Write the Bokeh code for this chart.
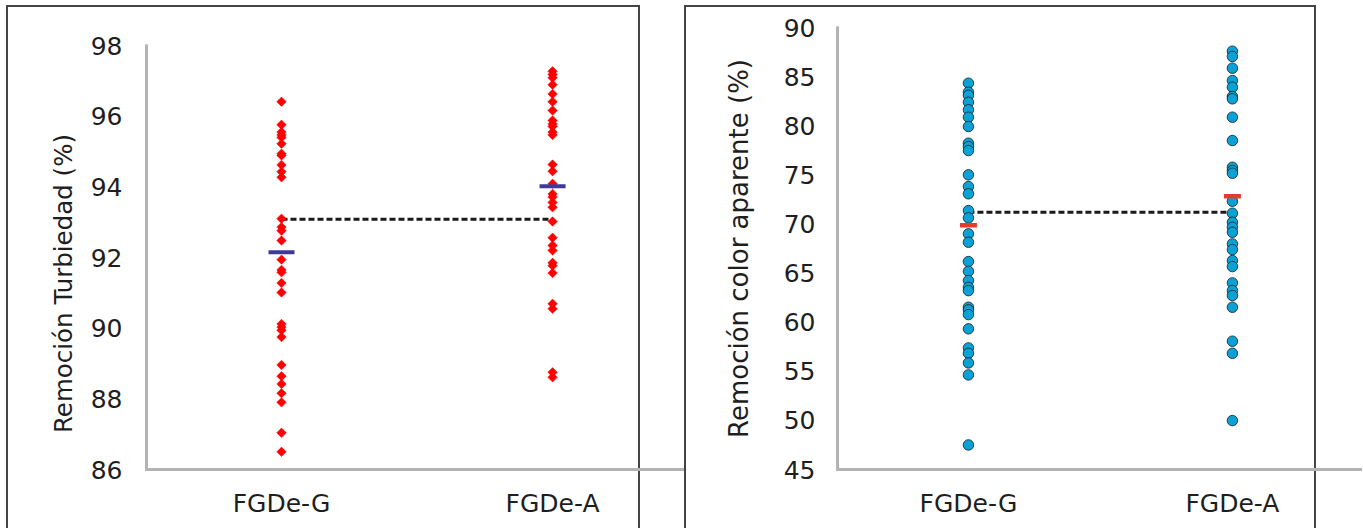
from bokeh.plotting import figure
from bokeh.layouts import row
from bokeh.models import FixedTicker, Range1d
from bokeh.embed import file_html
from bokeh.resources import INLINE

# ---------------- data ----------------
categories = ["FGDe-G", "FGDe-A"]

turb_G = [96.41, 95.76, 95.55, 95.47, 95.40, 95.22, 94.94, 94.89, 94.62, 94.43, 94.27,
          93.10, 92.86, 92.76, 92.48, 91.94, 91.65, 91.58, 91.28, 91.01, 90.12, 90.03,
          89.94, 89.75, 88.96, 88.64, 88.42, 88.16, 87.90, 87.04, 86.50]
turb_A = [97.27, 97.18, 97.09, 96.89, 96.63, 96.41, 96.16, 95.88, 95.78, 95.71, 95.55,
          95.47, 94.63, 94.44, 94.09, 93.80, 93.71, 93.56, 93.42, 93.02, 92.56, 92.34,
          92.20, 91.85, 91.77, 91.56, 90.69, 90.55, 88.75, 88.61]
turb_means = [92.15, 94.02]
turb_grand_mean = 93.08
turb_ticks = [86, 88, 90, 92, 94, 96, 98]

color_G = [84.33, 83.41, 83.10, 82.39, 81.62, 80.87, 79.92, 78.22, 77.88, 77.47, 75.00,
           73.81, 73.07, 71.36, 70.62, 68.99, 68.14, 66.17, 65.18, 64.24, 63.55, 63.21,
           61.52, 61.25, 60.77, 59.32, 57.38, 56.83, 55.85, 54.63, 47.50]
color_A = [87.59, 87.05, 85.86, 84.60, 83.92, 82.97, 82.74, 80.87, 78.49, 75.77, 75.44,
           75.16, 72.31, 71.09, 70.17, 69.66, 69.15, 67.97, 67.39, 66.27, 65.66, 64.00,
           63.22, 62.71, 61.52, 58.06, 56.83, 49.98]
color_means = [69.87, 72.82]
color_grand_mean = 71.19
color_ticks = [45, 50, 55, 60, 65, 70, 75, 80, 85, 90]

FONT = "DejaVu Sans"
H = 528
BORDER = "#444444"


def frame_lines(left, right, top):
    g = "linear-gradient(%s,%s)" % (BORDER, BORDER)
    parts = [
        "%s %dpx %dpx / 2px 700px no-repeat" % (g, left, top),
        "%s %dpx %dpx / %dpx 2px no-repeat" % (g, left, top, right - left + 2),
        "%s %dpx %dpx / 2px 700px no-repeat" % (g, right, top),
    ]
    return {"background": ", ".join(parts)}


def style(p, ticks, bounds, label, label_size, label_standoff, tick_standoff):
    xp = list(range(1, len(categories) + 1))
    p.xaxis.ticker = FixedTicker(ticks=xp)
    p.xaxis.major_label_overrides = {i: c for i, c in zip(xp, categories)}
    p.yaxis.ticker = FixedTicker(ticks=ticks)
    p.yaxis.bounds = bounds
    p.yaxis.axis_label = label
    p.yaxis.axis_label_text_font_size = label_size
    p.yaxis.axis_label_text_font_style = "normal"
    p.yaxis.axis_label_text_font = FONT
    p.yaxis.axis_label_text_color = "#1e1e1e"
    p.yaxis.axis_label_standoff = label_standoff
    for ax in (p.xaxis, p.yaxis):
        ax.axis_line_color = "#b3b3b3"
        ax.axis_line_width = 3
        ax.axis_line_cap = "round"
        ax.major_tick_line_color = None
        ax.minor_tick_line_color = None
        ax.major_label_text_font = FONT
        ax.major_label_text_font_size = "25px"
        ax.major_label_text_color = "#1e1e1e"
    p.yaxis.major_label_standoff = tick_standoff
    p.xaxis.major_label_standoff = 13
    p.xgrid.visible = False
    p.ygrid.visible = False
    p.outline_line_color = None
    p.background_fill_color = None
    p.border_fill_color = None


# ---------------- left panel ----------------
p1 = figure(width=684, height=H, output_backend="svg", toolbar_location=None,
            x_range=Range1d(0.502, 2.483), y_range=Range1d(86, 98.51),
            min_border_left=146, min_border_right=1, min_border_top=27,
            min_border_bottom=H - 469)
style(p1, turb_ticks, (86, 98), "Remoción Turbiedad (%)" + "\u00a0" * 9, "24.5px", 10, 18)
p1.styles = frame_lines(6, 638, 5)
p1.line([1, 2], [turb_grand_mean, turb_grand_mean], line_color="#1a1a1a",
        line_width=3, line_dash="6 3")
p1.scatter([1] * len(turb_G), turb_G, marker="square", angle=0.785398, size=6.7,
           fill_color="#ff0000", line_color="#ff0000", line_width=0.5)
p1.scatter([2] * len(turb_A), turb_A, marker="square", angle=0.785398, size=6.7,
           fill_color="#ff0000", line_color="#ff0000", line_width=0.5)
p1.scatter([1, 2], turb_means, marker="dash", size=26, line_width=4,
           line_color="#3d3a98")

# ---------------- right panel ----------------
p2 = figure(width=678, height=H, output_backend="svg", toolbar_location=None,
            x_range=Range1d(0.504, 2.489), y_range=Range1d(45, 90),
            min_border_left=153, min_border_right=1, min_border_top=27,
            min_border_bottom=H - 469)
style(p2, color_ticks, (45, 90), "Remoción color aparente (%)", "26px", 27, 16)
p2.styles = frame_lines(0, 630, 5)
p2.line([1, 2], [color_grand_mean, color_grand_mean], line_color="#1a1a1a",
        line_width=3, line_dash="6 3")
p2.scatter([1] * len(color_G), color_G, marker="circle", size=10.5,
           fill_color="#0aa2d6", line_color="#1a1a1a", line_width=0.8)
p2.scatter([2] * len(color_A), color_A, marker="circle", size=10.5,
           fill_color="#0aa2d6", line_color="#1a1a1a", line_width=0.8)
p2.scatter([1, 2], color_means, marker="dash", size=17, line_width=4.5,
           line_color="#e8392c")

layout = row(p1, p2, spacing=0)
open("out.html", "w").write(file_html(layout, INLINE))
